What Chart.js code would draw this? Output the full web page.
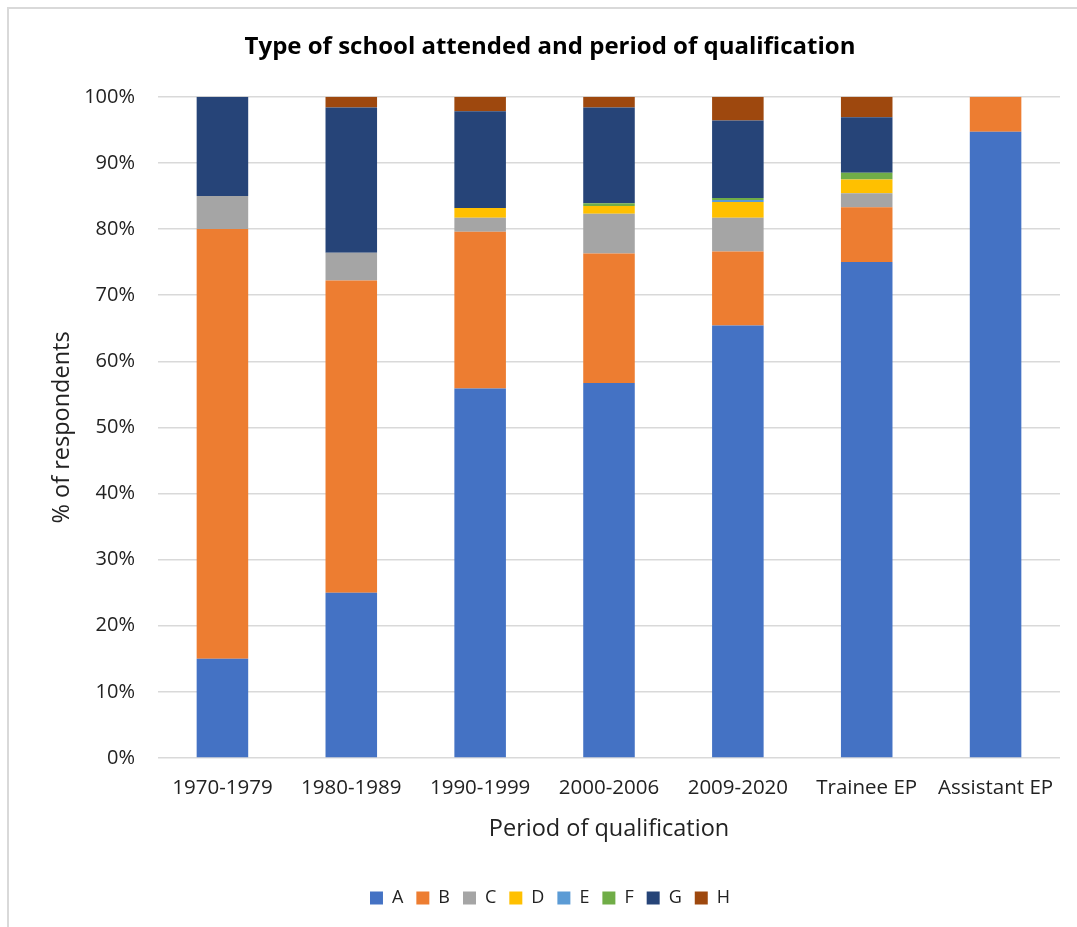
<!DOCTYPE html>
<html>
<head>
<meta charset="utf-8">
<title>Type of school attended and period of qualification</title>
<script src="https://cdn.jsdelivr.net/npm/chart.js@4"></script>
<style>
  html, body { margin: 0; padding: 0; background: #fff; overflow: hidden; }
  #frame { position: absolute; left: 7px; top: 7px; width: 1200px; height: 1000px; border: 2px solid #d9d9d9; box-sizing: border-box; }
  #wrap { position: absolute; left: 0; top: 0; width: 1077px; height: 927px; }
</style>
</head>
<body>
<div id="frame"></div>
<div id="wrap"><canvas id="schoolChart" width="1077" height="927"></canvas></div>
<script>
// periods of qualification
const periods = ['1970-1979', '1980-1989', '1990-1999', '2000-2006', '2009-2020', 'Trainee EP', 'Assistant EP'];

// % of respondents per school type
const typeA = [15, 25, 55.9, 56.7, 65.4, 75, 94.7];
const typeB = [65, 47.2, 23.7, 19.6, 11.2, 8.3, 5.3];
const typeC = [5, 4.2, 2.1, 6.0, 5.1, 2.1, 0];
const typeD = [0, 0, 1.5, 1.2, 2.4, 2.1, 0];
const typeE = [0, 0, 0, 0, 0.3, 0, 0];
const typeF = [0, 0, 0, 0.4, 0.3, 1.0, 0];
const typeG = [15, 22.0, 14.6, 14.5, 11.7, 8.4, 0];
const typeH = [0, 1.6, 2.2, 1.6, 3.6, 3.1, 0];

const yTicks = [0, 10, 20, 30, 40, 50, 60, 70, 80, 90, 100];

const series = [
    { label: 'A', data: typeA, color: '#4472c4' },
    { label: 'B', data: typeB, color: '#ed7d31' },
    { label: 'C', data: typeC, color: '#a5a5a5' },
    { label: 'D', data: typeD, color: '#ffc000' },
    { label: 'E', data: typeE, color: '#5b9bd5' },
    { label: 'F', data: typeF, color: '#70ad47' },
    { label: 'G', data: typeG, color: '#264478' },
    { label: 'H', data: typeH, color: '#9e480e' }
];

const FONT = "'Open Sans', sans-serif";
const textColor = '#222';

const ctx = document.getElementById('schoolChart').getContext('2d');
const schoolChart = new Chart(ctx, {
    type: 'bar',
    data: {
        labels: periods,
        datasets: series.map(s => ({
            label: s.label,
            data: s.data,
            backgroundColor: s.color,
            borderWidth: 0,
            barPercentage: 0.4,
            categoryPercentage: 1
        }))
    },
    options: {
        responsive: false,
        animation: false,
        layout: { padding: { left: 40, right: 17, top: 0, bottom: 10 } },
        plugins: {
            title: {
                display: true,
                text: 'Type of school attended and period of qualification',
                color: '#000',
                font: { family: FONT, size: 24, weight: 'bold' },
                padding: { top: 33, bottom: 35 }
            },
            legend: {
                position: 'bottom',
                labels: {
                    color: textColor,
                    font: { family: FONT, size: 18 },
                    boxWidth: 13,
                    boxHeight: 13,
                    padding: 13
                }
            },
            tooltip: { enabled: false }
        },
        scales: {
            x: {
                stacked: true,
                grid: { display: false, drawTicks: false },
                border: { display: false },
                ticks: { color: textColor, font: { family: FONT, size: 20.5 }, padding: 18, maxRotation: 0 },
                title: {
                    display: true,
                    text: 'Period of qualification',
                    color: textColor,
                    font: { family: FONT, size: 23.5 },
                    padding: { top: 4, bottom: 33 }
                },
                afterFit: scale => { scale.height = 118; }
            },
            y: {
                stacked: true,
                min: 0,
                max: 100,
                afterBuildTicks: scale => { scale.ticks = yTicks.map(v => ({ value: v })); },
                grid: { color: '#d9d9d9', lineWidth: 1.5, drawTicks: false },
                border: { display: false },
                ticks: {
                    color: textColor,
                    font: { family: FONT, size: 20 },
                    padding: 23,
                    callback: v => v + '%'
                },
                title: {
                    display: true,
                    text: '% of respondents',
                    color: textColor,
                    font: { family: FONT, size: 23.5 },
                    padding: { top: 8, bottom: 0 }
                },
                afterFit: scale => { scale.width = 118; }
            }
        }
    }
});
</script>
</body>
</html>
